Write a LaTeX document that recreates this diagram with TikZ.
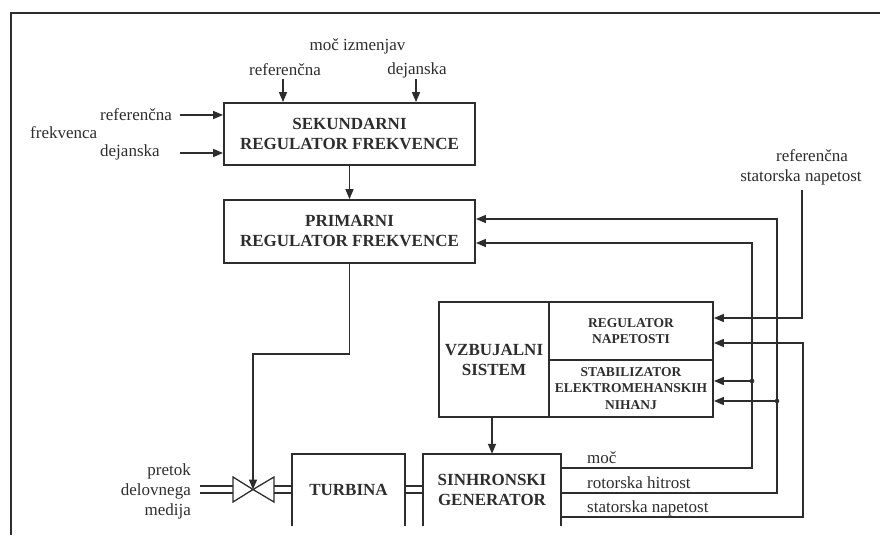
\documentclass[tikz,border=0pt]{standalone}
\usepackage{fontspec}
\setmainfont{Liberation Serif}
\usetikzlibrary{arrows.meta}
\definecolor{ink}{RGB}{45,45,45}
\begin{document}
\begin{tikzpicture}[x=1pt,y=-1pt,
  box/.style={draw=ink, line width=1.8pt, inner sep=0pt, align=center, text=ink,
    font=\bfseries\fontsize{17}{20}\selectfont},
  boxtext/.style={inner sep=0pt, align=center, text=ink,
    font=\bfseries\fontsize{17}{20}\selectfont},
  smallbox/.style={box, font=\bfseries\fontsize{13.5}{16.3}\selectfont},
  boxline/.style={draw=ink, line width=1.8pt},
  lbl/.style={inner sep=0pt, text=ink, font=\fontsize{17}{20}\selectfont},
  conn/.style={draw=ink, line width=1.4pt},
  arr/.style={conn, -{Triangle[length=10pt,width=8pt]}},
  pipe/.style={draw=ink, line width=1.4pt}
]
\useasboundingbox (0,0) rectangle (880,535);
% frame
\draw[ink, line width=2pt] (11,535) -- (11,13) -- (880,13);

% boxes
\node[box, minimum width=251pt, minimum height=62pt] (sek) at (349.5,134) {SEKUNDARNI\\REGULATOR FREKVENCE};
\node[box, minimum width=251pt, minimum height=63pt] (pri) at (349.5,231.5) {PRIMARNI\\REGULATOR FREKVENCE};
\node[box, minimum width=110pt, minimum height=115pt] (vzb) at (494,359.5) {VZBUJALNI\\SISTEM};
\node[smallbox, minimum width=164pt, minimum height=58pt] (reg) at (631,331) {REGULATOR\\NAPETOSTI};
\node[smallbox, minimum width=164pt, minimum height=57pt] (stab) at (631,388.5) {STABILIZATOR\\ELEKTROMEHANSKIH\\NIHANJ};
\node[boxtext, minimum width=113pt, minimum height=72pt] (tur) at (348.5,490) {TURBINA};
\draw[boxline] (tur.south west) -- (tur.north west) -- (tur.north east) -- (tur.south east);
\node[boxtext, minimum width=138pt, minimum height=72pt] (gen) at (492,490) {SINHRONSKI\\GENERATOR};
\draw[boxline] (gen.south west) -- (gen.north west) -- (gen.north east) -- (gen.south east);

% top inputs
\node[lbl] (moc) at (357.5,46) {moč izmenjav};
\node[lbl] (tref) at (285,70) {referenčna};
\node[lbl] (tdej) at (417,70) {dejanska};
\coordinate (ta) at (283,79);
\coordinate (tb) at (416,79);
\draw[arr] (ta) -- (ta |- sek.north);
\draw[arr] (tb) -- (tb |- sek.north);

% left inputs
\node[lbl, anchor=west] (lref) at (100,115) {referenčna};
\node[lbl, anchor=west] (ldej) at (100,152) {dejanska};
\node[lbl, anchor=west] (lfre) at (30,133) {frekvenca};
\coordinate (la) at (180,115);
\coordinate (lb) at (180,153);
\draw[arr] (la) -- (la -| sek.west);
\draw[arr] (lb) -- (lb -| sek.west);

% sek -> pri
\draw[arr] (sek.south) -- (pri.north);

% valve and pipes
\coordinate (v) at (253,489.5);
\draw[ink, line width=1.3pt, fill=white] (233,477) -- (233,502) -- (v) -- cycle;
\draw[ink, line width=1.3pt, fill=white] (274,477) -- (274,502) -- (v) -- cycle;
\draw[pipe] (200,486) -- (233,486) (200,493) -- (233,493);
\draw[pipe] (274,486) -- (tur.west |- 0,486) (274,493) -- (tur.west |- 0,493);
\draw[pipe] (tur.east |- 0,486) -- (gen.west |- 0,486) (tur.east |- 0,493) -- (gen.west |- 0,493);
\node[lbl, align=right, anchor=east, font=\fontsize{17}{20}\selectfont] (pret) at (191,491) {pretok\\delovnega\\medija};

% pri -> valve
\coordinate (p1) at (349.5,354);
\draw[arr] (pri.south) -- (p1) -| (v);

% vzb -> gen
\coordinate (vz) at (492,417);
\draw[arr] (vz) -- (vz |- gen.north);

% reference stator voltage
\node[lbl] (rr1) at (812,156) {referenčna};
\node[lbl] (rr2) at (801,177) {statorska napetost};
\coordinate (r0) at (802,190);
\coordinate (r1) at (802,318);
\draw[arr] (r0) -- (r1) -- (r1 -| reg.east);

% generator outputs
\coordinate (m0) at (561,468);
\coordinate (m1) at (752,468);
\coordinate (m2) at (752,243);
\draw[arr] (m0) -- (m1) -- (m2) -- (m2 -| pri.east);
\coordinate (md) at (752,381);
\fill[ink] (md) circle (2.3pt);
\draw[arr] (md) -- (md -| stab.east);

\coordinate (h0) at (561,493);
\coordinate (h1) at (777,493);
\coordinate (h2) at (777,219);
\draw[arr] (h0) -- (h1) -- (h2) -- (h2 -| pri.east);
\coordinate (hd) at (777,401);
\fill[ink] (hd) circle (2.3pt);
\draw[arr] (hd) -- (hd -| stab.east);

\coordinate (s0) at (561,517);
\coordinate (s1) at (803,517);
\coordinate (s2) at (803,343);
\draw[arr] (s0) -- (s1) -- (s2) -- (s2 -| reg.east);

\node[lbl, anchor=base west] (lmoc) at (587,463) {moč};
\node[lbl, anchor=base west] (lrot) at (587,488) {rotorska hitrost};
\node[lbl, anchor=base west] (lsta) at (587,512) {statorska napetost};
\end{tikzpicture}
\end{document}
